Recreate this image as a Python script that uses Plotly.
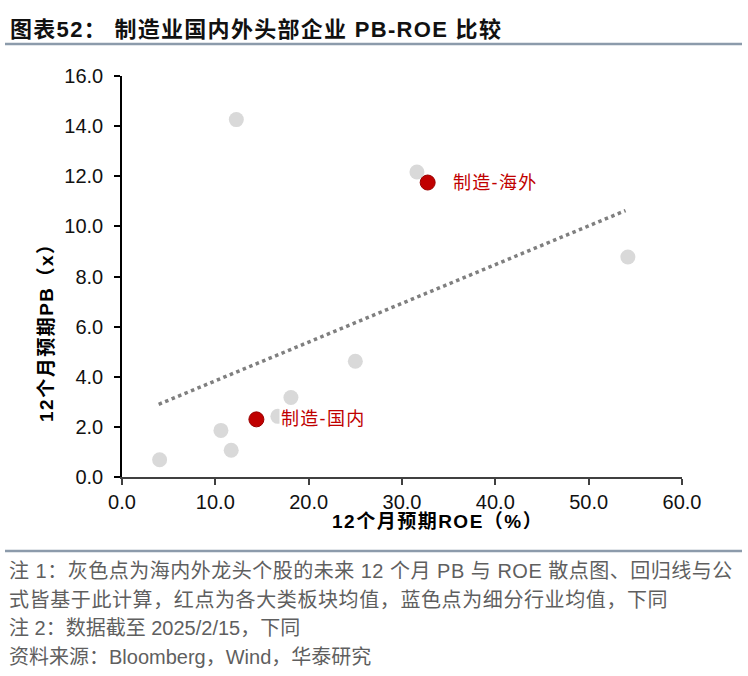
import plotly.graph_objects as go

# ---- data ----
gray_roe = [12.25, 4.03, 10.6, 11.7, 16.7, 18.1, 25.0, 31.6, 54.2]
gray_pb = [14.26, 0.69, 1.86, 1.07, 2.42, 3.17, 4.62, 12.17, 8.78]
red_names = ["制造-国内", "制造-海外"]
red_roe = [14.4, 32.75]
red_pb = [2.30, 11.75]
trend_roe = [3.93, 53.95]
trend_pb = [2.90, 10.63]
x_ticks = [0, 10, 20, 30, 40, 50, 60]
y_ticks = [0, 2, 4, 6, 8, 10, 12, 14, 16]

title_head = "图表52："
title_body = "制造业国内外头部企业 PB-ROE 比较"
x_title = "12个月预期ROE（%）"
y_title = "12个月预期PB（x）"
notes = [
    "注 1：灰色点为海内外龙头个股的未来 12 个月 PB 与 ROE 散点图、回归线与公",
    "式皆基于此计算，红点为各大类板块均值，蓝色点为细分行业均值，下同",
    "注 2：数据截至 2025/2/15，下同",
    "资料来源：Bloomberg，Wind，华泰研究",
]
note_spacing = [0.5, 0.6, 0, 0]

W, H = 748, 676
L, R, T, B = 122, 682, 76, 477


def px(x):
    return (x - L) / (R - L)


def py(y):
    return (B - y) / (B - T)


SANS = "Liberation Sans, Arial, Noto Sans CJK SC, sans-serif"

fig = go.Figure()
fig.add_trace(go.Scatter(
    x=trend_roe, y=trend_pb, mode="lines",
    line=dict(color="#7f7f7f", width=3.5, dash="dot"),
    hoverinfo="skip", showlegend=False))
fig.add_trace(go.Scatter(
    x=gray_roe, y=gray_pb, mode="markers",
    marker=dict(color="#d9d9d9", size=15, line=dict(width=0)),
    showlegend=False))
fig.add_trace(go.Scatter(
    x=red_roe, y=red_pb, mode="markers",
    marker=dict(color="#c00000", size=15, line=dict(color="#9a0000", width=1)),
    showlegend=False))

annotations = []
for name, xr, yr in zip(red_names, red_roe, red_pb):
    annotations.append(dict(
        x=xr, y=yr, xref="x", yref="y",
        text='<span style="letter-spacing:1.3px">' + name + "</span>",
        showarrow=False, xanchor="left", yanchor="middle", xshift=23,
        font=dict(family=SANS, size=18, color="#c00000"),
        bgcolor="white", borderpad=1))

annotations.append(dict(
    x=px(8), y=py(29), xref="paper", yref="paper",
    text='<span style="letter-spacing:1.3px"><b>' + title_head + "</b> <b>"
         + title_body + "</b></span>",
    showarrow=False, xanchor="left", yanchor="middle",
    font=dict(family=SANS, size=22, color="#111111")))
annotations.append(dict(
    x=px(437), y=py(521), xref="paper", yref="paper",
    text='<span style="letter-spacing:1.5px"><b>' + x_title + "</b></span>",
    showarrow=False, xanchor="center", yanchor="middle",
    font=dict(family=SANS, size=19, color="#000000")))
annotations.append(dict(
    x=px(46), y=py(328), xref="paper", yref="paper",
    text='<span style="letter-spacing:1.5px"><b>' + y_title + "</b></span>",
    showarrow=False, xanchor="center", yanchor="middle", textangle=-90,
    font=dict(family=SANS, size=19, color="#000000")))
for i, (line, sp) in enumerate(zip(notes, note_spacing)):
    annotations.append(dict(
        x=px(7), y=py(571 + 28.7 * i), xref="paper", yref="paper",
        text=f'<span style="letter-spacing:{sp}px">' + line + "</span>",
        showarrow=False, xanchor="left", yanchor="middle",
        font=dict(family=SANS, size=20, color="#5f5f5f")))

shapes = [
    dict(type="line", xref="paper", yref="paper", x0=px(5), x1=px(742),
         y0=py(44), y1=py(44), line=dict(color="#8c9bab", width=2.5)),
    dict(type="line", xref="paper", yref="paper", x0=px(5), x1=px(742),
         y0=py(551), y1=py(551), line=dict(color="#8c9bab", width=2.5)),
]

fig.update_layout(
    width=W, height=H,
    margin=dict(l=L, r=W - R, t=T, b=H - B, pad=0),
    paper_bgcolor="white", plot_bgcolor="white",
    annotations=annotations, shapes=shapes,
    xaxis=dict(range=[0, 60], tickvals=x_ticks,
               ticktext=[f"{v:.1f}" for v in x_ticks],
               showgrid=False, zeroline=False, showline=True,
               linecolor="#404040", linewidth=2, ticks="outside",
               ticklen=6, tickwidth=1.5, tickcolor="#404040",
               tickfont=dict(family=SANS, size=20, color="#111111")),
    yaxis=dict(range=[0, 16], tickvals=y_ticks,
               ticktext=[f"{v:.1f}" for v in y_ticks],
               showgrid=False, zeroline=False, showline=True,
               linecolor="#000000", linewidth=1.5, ticks="outside",
               ticklen=6, tickwidth=1.5, tickcolor="#000000",
               ticklabelstandoff=7,
               tickfont=dict(family=SANS, size=20, color="#111111")),
)

fig.write_html("out.html")
